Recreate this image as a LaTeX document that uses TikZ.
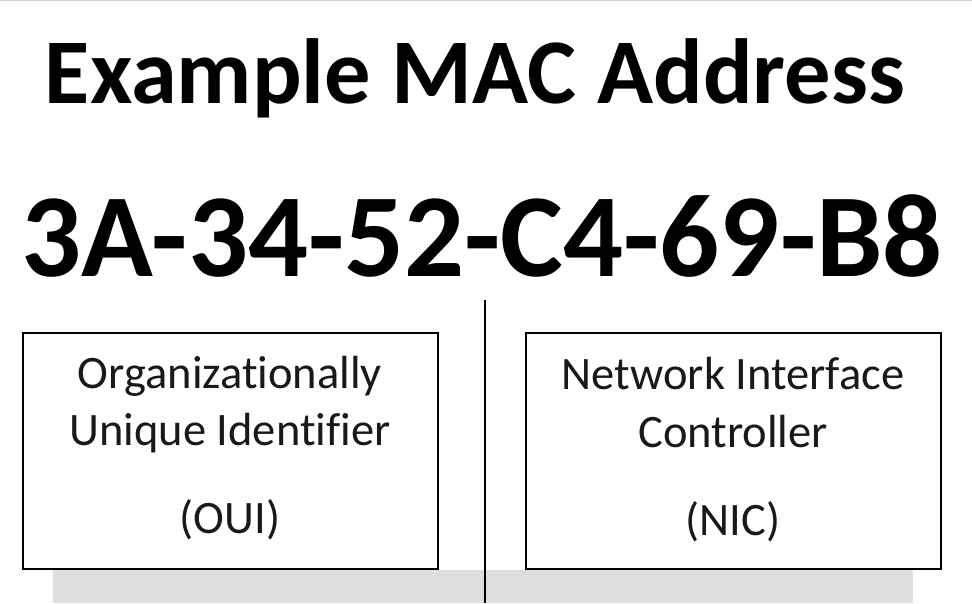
\documentclass[tikz,border=0pt]{standalone}
\usepackage{fontspec}
\setmainfont{Carlito}[Ligatures={NoCommon}]
\definecolor{barGray}{HTML}{DEDEDE}
\definecolor{edgeGray}{HTML}{D0D0D0}
\begin{document}
\begin{tikzpicture}[x=1pt,y=-1pt,
  titletext/.style={font=\bfseries\fontsize{92.5}{92.5}\selectfont, anchor=base, inner sep=0},
  mactext/.style={font=\bfseries\fontsize{118.5}{118.5}\selectfont, anchor=base, inner sep=0},
  boxtext/.style={font=\fontsize{46.5}{46.5}\selectfont, anchor=base, inner sep=0, text=black!90},
  partbox/.style={draw=black, line width=1.6pt, minimum width=415pt, minimum height=236pt, inner sep=0}]
\useasboundingbox (0,0) rectangle (972,603);
\fill[white] (0,0) rectangle (972,603);
\draw[edgeGray, line width=1pt] (0,0.5) -- (972,0.5);
\fill[barGray] (53,570) rectangle (913,603);
\node[titletext] (title) at (475,103) {Example MAC Address};
\node[mactext] (mac) at (482,276) {3A-34-52-C4-69-B8};
\node[partbox] (oui) at (230.5,451) {};
\node[partbox] (nic) at (733.5,451) {};
\coordinate (vtop) at (485,300);
\coordinate (vbot) at (485,603);
\draw[line width=1.6pt] (vtop) -- (vbot);
\node[boxtext] (o1) at (230,388) {Organizationally};
\node[boxtext] (o2) at (230,445) {Unique Identifier};
\node[boxtext] (o3) at (230,533) {(OUI)};
\node[boxtext] (n1) at (733,389) {Network Interface};
\node[boxtext] (n2) at (733,447) {Controller};
\node[boxtext] (n3) at (733,535) {(NIC)};
\end{tikzpicture}
\end{document}
